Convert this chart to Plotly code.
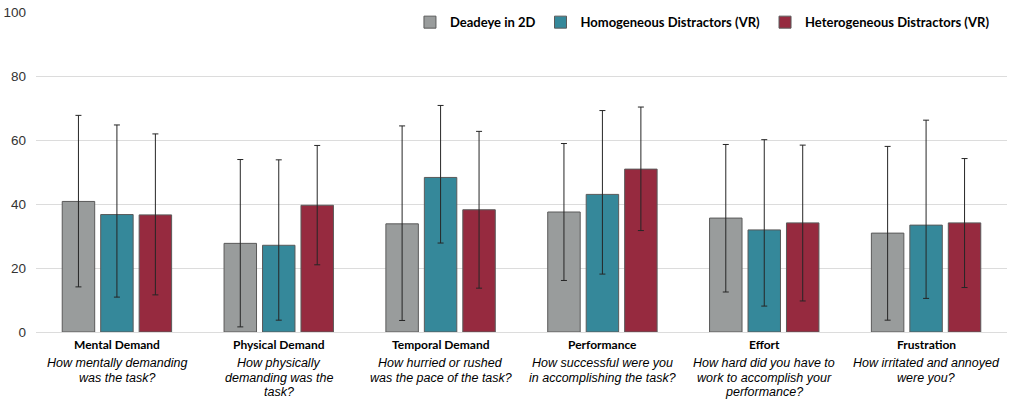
import plotly.graph_objects as go

categories = ["Mental Demand", "Physical Demand", "Temporal Demand",
              "Performance", "Effort", "Frustration"]
questions = [
    ["How mentally demanding", "was the task?"],
    ["How physically", "demanding was the", "task?"],
    ["How hurried or rushed", "was the pace of the task?"],
    ["How successful were you", "in accomplishing the task?"],
    ["How hard did you have to", "work to accomplish your", "performance?"],
    ["How irritated and annoyed", "were you?"],
]
series_names = ["Deadeye in 2D", "Homogeneous Distractors (VR)",
                "Heterogeneous Distractors (VR)"]

deadeye = [40.8, 27.7, 33.8, 37.5, 35.6, 30.9]
deadeye_hi = [67.7, 53.9, 64.4, 58.9, 58.6, 58.0]
deadeye_lo = [14.1, 1.6, 3.6, 16.1, 12.5, 3.7]

homog = [36.7, 27.1, 48.3, 43.0, 31.9, 33.4]
homog_hi = [64.7, 53.8, 70.8, 69.2, 60.1, 66.2]
homog_lo = [10.9, 3.7, 27.8, 18.1, 8.1, 10.5]

heter = [36.6, 39.6, 38.2, 50.9, 34.1, 34.1]
heter_hi = [61.9, 58.3, 62.7, 70.3, 58.4, 54.2]
heter_lo = [11.6, 21.0, 13.7, 31.7, 9.7, 13.9]

colors = ["#999c9c", "#35889a", "#962a3f"]

fig = go.Figure()
for name, vals, hi, lo, col in zip(series_names, [deadeye, homog, heter],
                                   [deadeye_hi, homog_hi, heter_hi],
                                   [deadeye_lo, homog_lo, heter_lo], colors):
    fig.add_trace(go.Bar(
        x=categories, y=vals, name="<b>" + name + "</b>",
        marker=dict(color=col, line=dict(color="#5a5a5a", width=1)),
        error_y=dict(type="data", symmetric=False,
                     array=[h - v for h, v in zip(hi, vals)],
                     arrayminus=[v - l for v, l in zip(vals, lo)],
                     color="#262626", thickness=1, width=3),
    ))

annotations = []
for i, (cat, qs) in enumerate(zip(categories, questions)):
    annotations.append(dict(
        x=cat, xref="x", y=0, yref="paper", yanchor="top", showarrow=False,
        text="<b>" + cat + "</b>", yshift=-3,
        font=dict(family="Lato", size=12, color="#000000")))
    for j, q in enumerate(qs):
        annotations.append(dict(
            x=cat, xref="x", y=0, yref="paper", yanchor="top", showarrow=False,
            text="<i>" + q + "</i>", yshift=-22 - 14.5 * j,
            font=dict(family="Liberation Sans, Arial", size=12.5, color="#000000")))

fig.update_layout(
    width=1013, height=405,
    margin=dict(l=36, r=6, t=12, b=73, autoexpand=False),
    paper_bgcolor="white", plot_bgcolor="white",
    barmode="group", bargap=0.287, bargroupgap=0.156,
    showlegend=True,
    legend=dict(orientation="h", x=0.9876, xanchor="right", y=1.015, yanchor="top",
                bgcolor="rgba(0,0,0,0)",
                font=dict(family="Lato", size=13, color="#000000"),
                itemwidth=30, traceorder="normal"),
    xaxis=dict(showticklabels=False, showgrid=False, zeroline=False,
               showline=False, automargin=False),
    yaxis=dict(range=[0, 100], tickvals=[0, 20, 40, 60, 80, 100],
               showgrid=True, gridcolor="#dcdcdc", gridwidth=1,
               zeroline=True, zerolinecolor="#dcdcdc", zerolinewidth=1,
               showline=False, ticks="", ticklabelstandoff=9, automargin=False,
               tickfont=dict(family="Liberation Sans, Arial", size=13.5, color="#333333")),
    annotations=annotations,
)

fig.write_html("out.html")
